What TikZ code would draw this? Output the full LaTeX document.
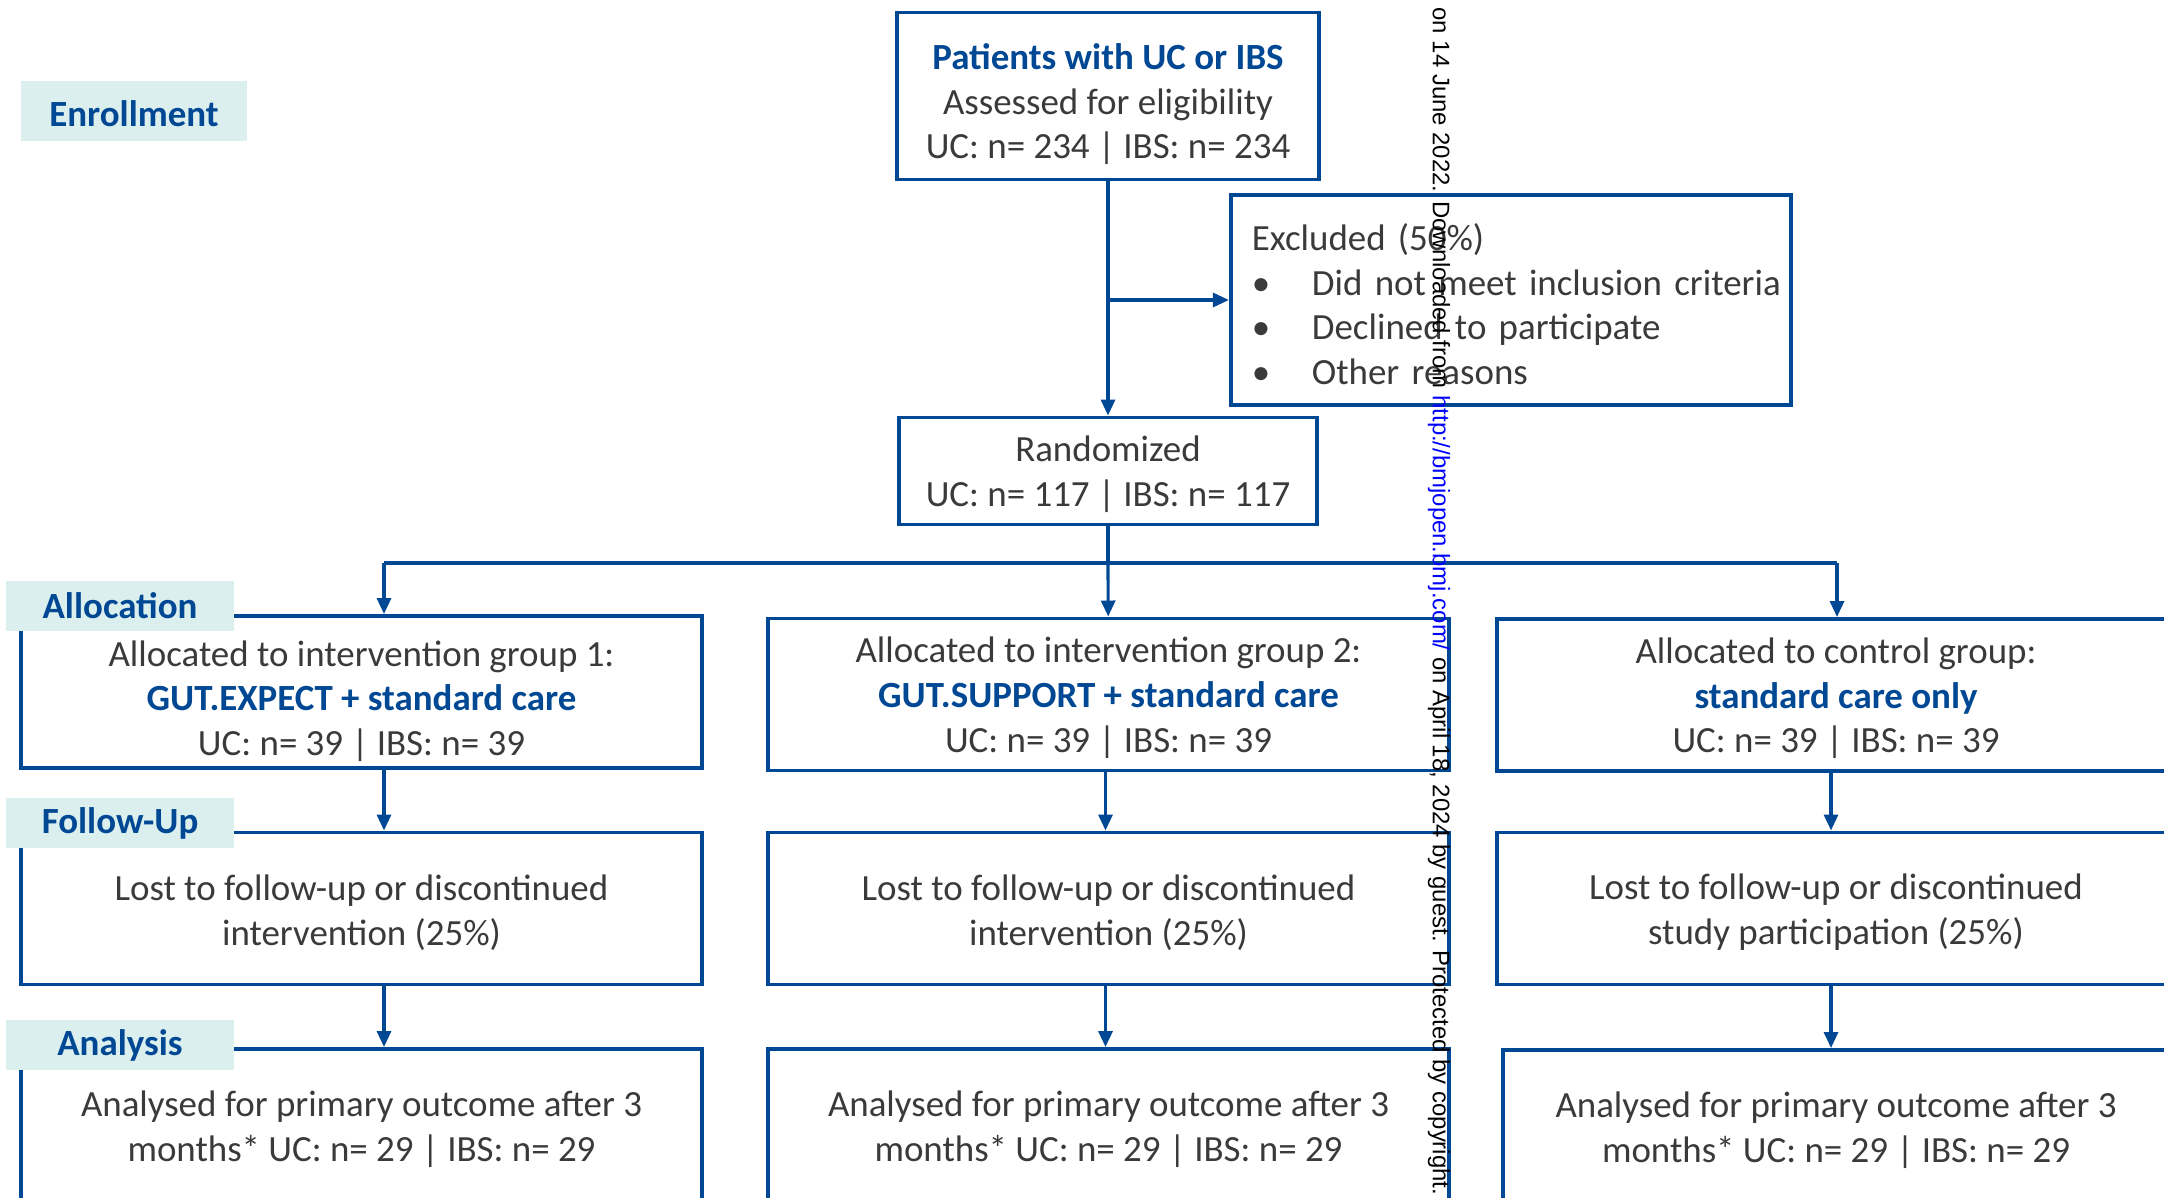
\documentclass[tikz,border=0pt]{standalone}
\usepackage{fontspec}
\setmainfont{Carlito}
\newfontfamily\wmfont{Liberation Sans}
\usepackage{tikz}
\usetikzlibrary{positioning,calc,arrows.meta}
\definecolor{cblue}{RGB}{0,72,147}
\definecolor{ctext}{RGB}{58,58,58}
\definecolor{cteal}{RGB}{219,239,239}
\definecolor{clink}{RGB}{0,0,255}
\newcommand{\bluebf}[1]{\textbf{\textcolor{cblue}{#1}}}

\begin{document}
\begin{tikzpicture}[x=0.01cm,y=-0.01cm,
  box/.style={draw=cblue, line width=1.1pt, align=center, text=ctext, inner sep=0pt,
    minimum width=6.81cm, minimum height=1.52cm, font=\fontsize{10.5pt}{12.75pt}\selectfont},
  stage/.style={fill=cteal, text=cblue, inner sep=0pt, minimum width=2.27cm, minimum height=0.5cm,
    font=\fontsize{10.5pt}{12.75pt}\selectfont\bfseries},
  conn/.style={draw=cblue, line width=0.9pt},
  arr/.style={conn, -{Triangle[length=0.16cm,width=0.14cm]}}]

\useasboundingbox (0,0) rectangle (2164,1197);
\clip (0,0) rectangle (2164,1197);

\newcommand{\bul}{\makebox[0.6cm][l]{\textbullet}}
\newcommand{\up}[1]{\rule{0pt}{#1}}

% enrollment
\node[box, minimum width=4.22cm, minimum height=1.67cm] (pat) at (1108,96) {\up{12pt}\bluebf{Patients with UC or IBS}\\Assessed for eligibility\\UC: n= 234 \textbar{} IBS: n= 234};
\node[box, minimum width=5.6cm, minimum height=2.1cm, align=left, text width=5.18cm] (excl) at (1511,300) {\up{10pt}Excluded (50\%)\\\bul\mbox{Did not meet inclusion criteria}\\\bul Declined to participate\\\bul Other reasons};
\node[box, minimum width=4.18cm, minimum height=1.07cm] (rand) at (1108,471) {\up{9pt}Randomized\\UC: n= 117 \textbar{} IBS: n= 117};

% allocation
\node[box] (al1) at (361.5,692) {\up{12.5pt}Allocated to intervention group 1:\\\bluebf{GUT.EXPECT + standard care}\\UC: n= 39 \textbar{} IBS: n= 39};
\node[box] (al2) at (1108.5,694.5) {\up{9.2pt}Allocated to intervention group 2:\\\bluebf{GUT.SUPPORT + standard care}\\UC: n= 39 \textbar{} IBS: n= 39};
\node[box, minimum width=6.78cm] (al3) at (1836,695) {\up{9.2pt}Allocated to control group:\\\bluebf{standard care only}\\UC: n= 39 \textbar{} IBS: n= 39};

% follow-up
\node[box] (fu1) at (361.5,908.5) {\up{9.5pt}Lost to follow-up or discontinued\\intervention (25\%)};
\node[box] (fu2) at (1108.5,908.5) {\up{9.5pt}Lost to follow-up or discontinued\\intervention (25\%)};
\node[box, minimum width=6.78cm] (fu3) at (1836,908.5) {\up{9.5pt}Lost to follow-up or discontinued\\study participation (25\%)};

% analysis
\node[box] (an1) at (361.5,1125) {\up{9.5pt}Analysed for primary outcome after 3\\months* UC: n= 29 \textbar{} IBS: n= 29};
\node[box] (an2) at (1108.5,1125) {\up{9.5pt}Analysed for primary outcome after 3\\months* UC: n= 29 \textbar{} IBS: n= 29};
\node[box, minimum width=6.66cm] (an3) at (1836,1126) {\up{9.5pt}Analysed for primary outcome after 3\\months* UC: n= 29 \textbar{} IBS: n= 29};

\draw[arr] (pat) -- (rand);
\coordinate (split) at (pat.south |- excl.west);
\draw[arr] (split) -- (excl);

\coordinate (fork) at (1108,563);
\coordinate (b1) at (384,563);
\coordinate (b3) at (1837,563);
\draw[conn] (rand) -- (fork);
\draw[conn] (b1) -- (b3);
\draw[arr] (b1) -- (b1 |- al1.north);
\draw[arr] (fork) -- (al2);
\draw[arr] (b3) -- (b3 |- al3.north);

\draw[arr] (al1.south -| b1) -- (fu1.north -| b1);
\draw[arr] (fu1.south -| b1) -- (an1.north -| b1);
\draw[arr] ([xshift=-0.03cm]al2.south) -- ([xshift=-0.03cm]fu2.north);
\draw[arr] ([xshift=-0.03cm]fu2.south) -- ([xshift=-0.03cm]an2.north);
\draw[arr] ([xshift=-0.05cm]al3.south) -- ([xshift=-0.05cm]fu3.north);
\draw[arr] ([xshift=-0.05cm]fu3.south) -- ([xshift=-0.05cm]an3.north);

% stage labels
\node[stage, minimum width=2.26cm, minimum height=0.6cm] (enr) at (134,111) {\up{9pt}Enrollment};
\node[stage] (alloc) at (120,606) {Allocation};
\node[stage] (fup) at (120,823) {Follow-Up};
\node[stage] (ana) at (120,1045) {Analysis};

\node[rotate=-90, anchor=west, inner sep=0pt, font=\wmfont\fontsize{6.8pt}{8pt}\selectfont] (wm) at (1439,7) {on 14 June 2022. Downloaded from \textcolor{clink}{http://bmjopen.bmj.com/} on April 18, 2024 by guest. Protected by copyright.};
\end{tikzpicture}
\end{document}
